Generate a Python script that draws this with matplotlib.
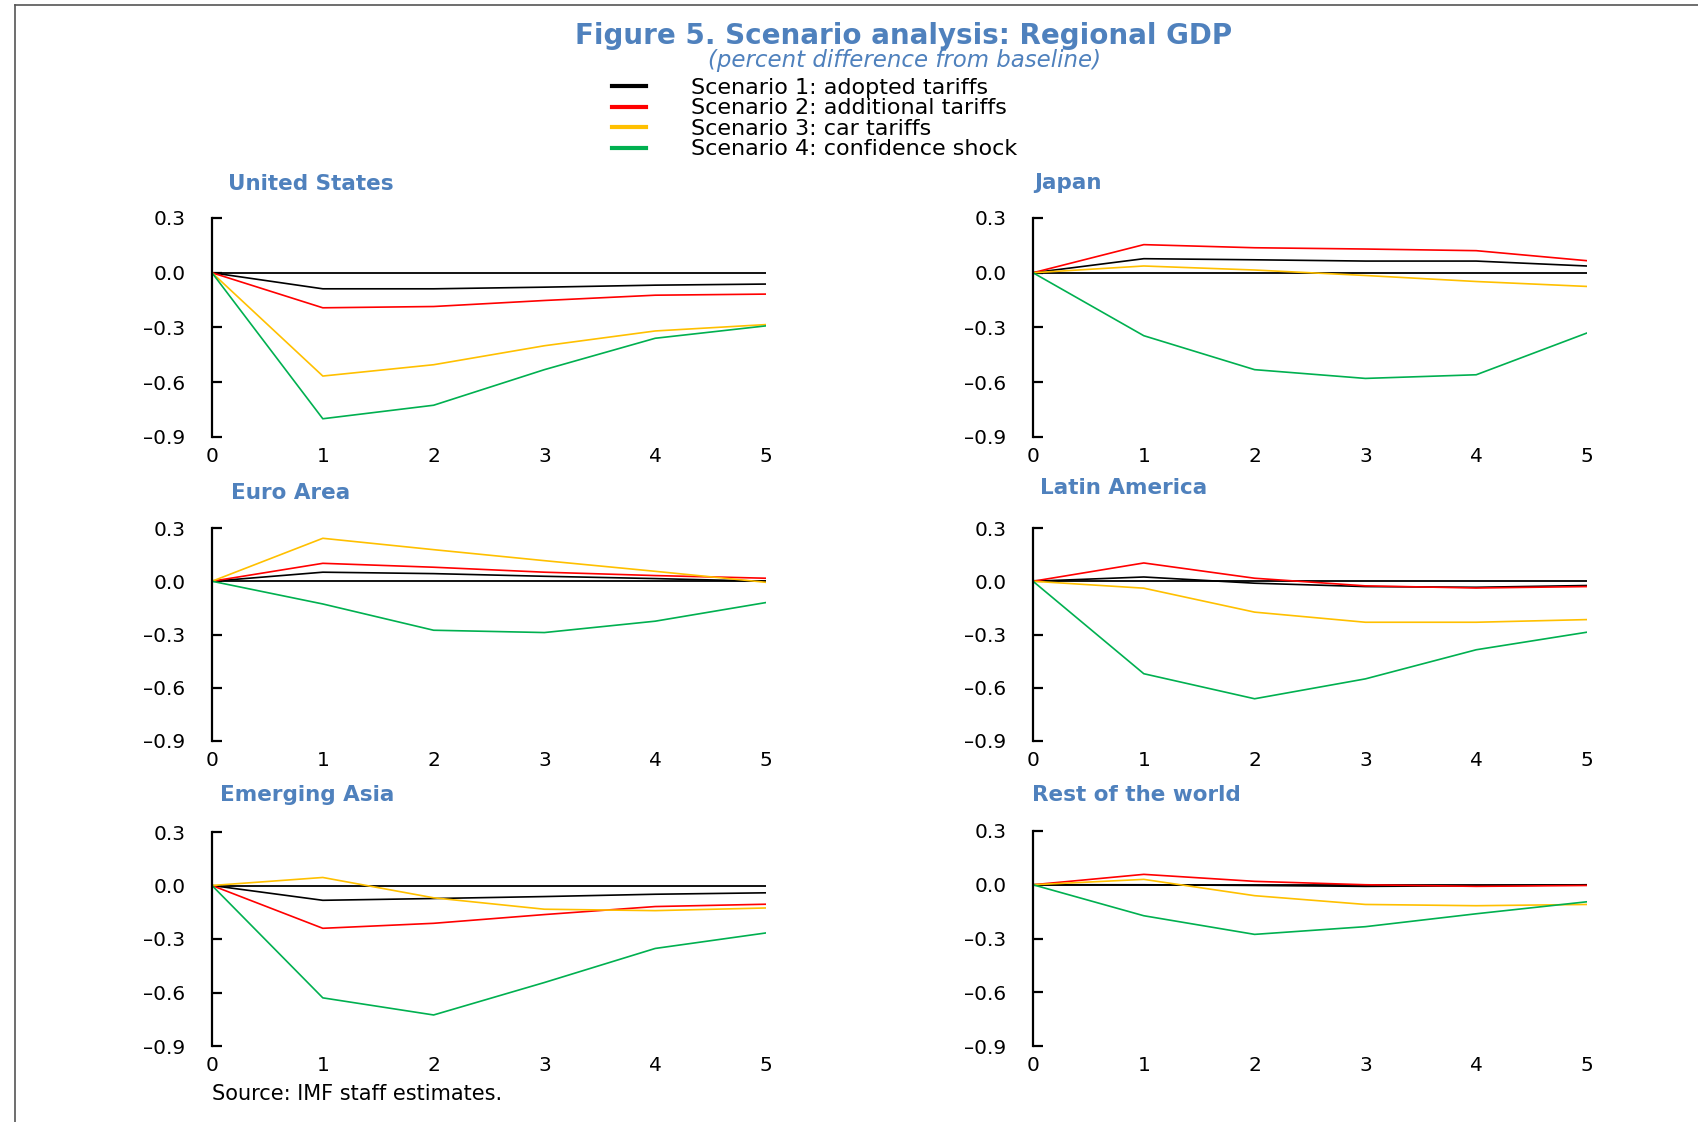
import numpy as np
import matplotlib
matplotlib.use("Agg")
import matplotlib.pyplot as plt
from matplotlib.lines import Line2D

# horizon (years)
years = [0, 1, 2, 3, 4, 5]

scenarios = ["Scenario 1: adopted tariffs",
             "Scenario 2: additional tariffs",
             "Scenario 3: car tariffs",
             "Scenario 4: confidence shock"]
colores = ["#000000", "#FF0000", "#FFC000", "#00B050"]

# valores: una lista por escenario (1..4)
united_states = [[0, -0.088, -0.088, -0.079, -0.068, -0.062],
                 [0, -0.192, -0.185, -0.152, -0.123, -0.117],
                 [0, -0.566, -0.504, -0.400, -0.319, -0.284],
                 [0, -0.800, -0.726, -0.531, -0.359, -0.291]]
japan = [[0, 0.077, 0.071, 0.064, 0.064, 0.037],
         [0, 0.154, 0.137, 0.130, 0.121, 0.066],
         [0, 0.037, 0.015, -0.015, -0.048, -0.075],
         [0, -0.345, -0.531, -0.579, -0.559, -0.330]]
euro_area = [[0, 0.051, 0.043, 0.028, 0.015, 0.000],
             [0, 0.101, 0.079, 0.051, 0.032, 0.017],
             [0, 0.242, 0.178, 0.116, 0.056, -0.006],
             [0, -0.128, -0.276, -0.289, -0.225, -0.120]]
latin_america = [[0, 0.024, -0.011, -0.030, -0.034, -0.024],
                 [0, 0.103, 0.017, -0.026, -0.038, -0.030],
                 [0, -0.039, -0.174, -0.231, -0.231, -0.216],
                 [0, -0.521, -0.662, -0.550, -0.386, -0.287]]
emerging_asia = [[0, -0.083, -0.073, -0.062, -0.049, -0.041],
                 [0, -0.240, -0.212, -0.163, -0.118, -0.105],
                 [0, 0.045, -0.069, -0.133, -0.141, -0.126],
                 [0, -0.630, -0.726, -0.544, -0.353, -0.266]]
rest_world = [[0, 0.000, -0.004, -0.009, -0.006, 0.000],
              [0, 0.058, 0.019, 0.000, -0.009, -0.004],
              [0, 0.030, -0.061, -0.110, -0.117, -0.110],
              [0, -0.173, -0.277, -0.234, -0.162, -0.095]]

regiones = ["United States", "Japan", "Euro Area",
            "Latin America", "Emerging Asia", "Rest of the world"]
datos = [united_states, japan, euro_area, latin_america, emerging_asia, rest_world]
yticks = [0.3, 0.0, -0.3, -0.6, -0.9]

azul = "#4F81BD"
W, H = 1698, 1122
fig = plt.figure(figsize=(W / 100, H / 100), dpi=100)

# posiciones de los paneles en pixeles (izq, arriba, der, abajo)
cajas = [(212, 218, 766, 437), (1033, 218, 1587, 437),
         (212, 528, 766, 741), (1033, 528, 1587, 741),
         (212, 832, 766, 1046), (1033, 831, 1587, 1046)]
titulos_pos = [(228, 184), (1034, 183), (231, 493),
               (1040, 488), (220, 795), (1032, 795)]

for i in range(6):
    l, t, r, b = cajas[i]
    ax = fig.add_axes([l / W, 1 - b / H, (r - l) / W, (b - t) / H])
    ax.axhline(0, color="black", lw=1.3, zorder=1)
    for k in range(4):
        ax.plot(years, datos[i][k], color=colores[k], lw=1.2,
                label=scenarios[k], zorder=2)
    ax.set_xlim(0, 5)
    ax.set_ylim(-0.9, 0.3)
    ax.set_yticks(yticks)
    ax.set_yticklabels([("%.1f" % v).replace("-", "\u2013") for v in yticks])
    ax.set_xticks(years)
    for s in ["top", "right", "bottom"]:
        ax.spines[s].set_visible(False)
    ax.spines["left"].set_linewidth(1.6)
    ax.tick_params(axis="y", direction="in", length=7, width=1.6,
                   pad=19, labelsize=14.5, colors="black")
    ax.tick_params(axis="x", length=0, pad=7, labelsize=14.5)
    ax.set_facecolor("none")
    tx, ty = titulos_pos[i]
    fig.text(tx / W, 1 - ty / H, regiones[i], color=azul, fontsize=15.5,
             fontweight="bold", ha="left", va="center")
    if i == 0:
        handles, labels = ax.get_legend_handles_labels()

fig.text(904 / W, 1 - 36 / H, "Figure 5. Scenario analysis: Regional GDP",
         color=azul, fontsize=20, fontweight="bold", ha="center", va="center")
fig.text(904 / W, 1 - 60 / H, "(percent difference from baseline)",
         color=azul, fontsize=16.5, style="italic", ha="center", va="center")

leg = fig.legend(handles, labels, loc="upper left",
                 bbox_to_anchor=(612 / W, 1 - 78 / H), frameon=False,
                 fontsize=16, handlelength=1.55, handletextpad=2.0,
                 labelspacing=0.02, borderpad=0, borderaxespad=0)
for ln in leg.get_lines():
    ln.set_linewidth(3)

fig.text(212 / W, 1 - 1094 / H, "Source: IMF staff estimates.",
         fontsize=15, ha="left", va="center")

# marco de la pagina
fig.add_artist(Line2D([15 / W, 1], [1 - 5 / H, 1 - 5 / H], color="#555555", lw=1.2))
fig.add_artist(Line2D([15 / W, 15 / W], [0, 1 - 5 / H], color="#555555", lw=1.2))

plt.savefig("out.png", dpi=100)
